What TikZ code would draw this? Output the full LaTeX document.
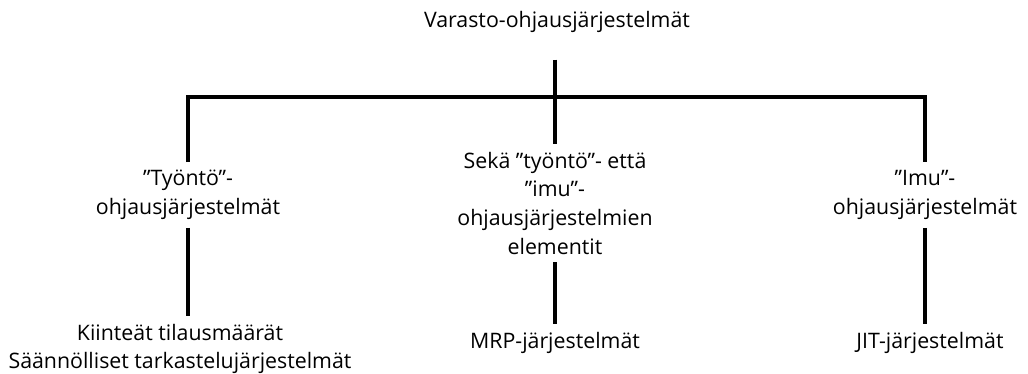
\documentclass[tikz,border=0pt]{standalone}
\usepackage{fontspec}
\setmainfont{Open Sans}
\begin{document}
\begin{tikzpicture}[x=0.75pt, y=-0.75pt,
    label/.style={align=center, font=\fontsize{16}{21.5}\selectfont, inner sep=6pt},
    link/.style={line width=3pt}]
    \useasboundingbox (0,0) rectangle (1028,374);
    % top level
    \node[label] (root) at (557,22) {Varasto-ohjausjärjestelmät};
    \coordinate (hub) at (555,97);
    % second level
    \node[label] (push) at (188,195) {”Työntö”-\\ohjausjärjestelmät};
    \node[label] (both) at (555,203) {Sekä ”työntö”- että\\”imu”-\\ohjausjärjestelmien\\elementit};
    \node[label] (pull) at (925,195) {”Imu”-\\ohjausjärjestelmät};
    % third level
    \node[label] (pushsys) at (180,349) {Kiinteät tilausmäärät\\Säännölliset tarkastelujärjestelmät};
    \node[label] (mrp) at (555,343) {MRP-järjestelmät};
    \node[label] (jit) at (930,343) {JIT-järjestelmät};
    % connectors
    \draw[link, shorten <=14pt] (root.south -| hub) -- (both.north);
    \draw[link] (push.north) |- (hub) -| (pull.north);
    \draw[link] (push.south) -- (push.south |- pushsys.north);
    \draw[link] (both) -- (mrp);
    \draw[link] (pull.south) -- (pull.south |- jit.north);
\end{tikzpicture}
\end{document}
